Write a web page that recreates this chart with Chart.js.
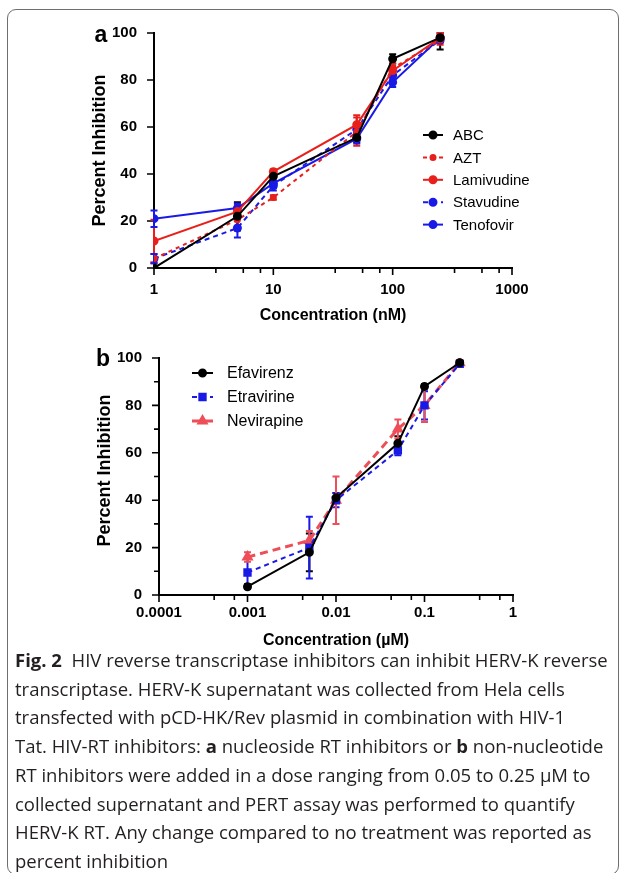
<!DOCTYPE html>
<html>
<head>
<meta charset="utf-8">
<script src="https://cdn.jsdelivr.net/npm/chart.js@4.4.0/dist/chart.umd.min.js"></script>
<style>
  body { margin: 0; background: #fff; width: 624px; height: 873px; overflow: hidden; position: relative; }
  #frame { position: absolute; left: 7px; top: 9px; width: 610px; height: 864px; border: 1px solid #6d6e71; border-radius: 9px; }
  #wrapA { position: absolute; left: 0; top: 0; width: 624px; height: 340px; }
  #wrapB { position: absolute; left: 0; top: 340px; width: 624px; height: 320px; }
  #caption { position: absolute; left: 15px; top: 646px; font-family: 'Open Sans', sans-serif; font-size: 18.5px;
             line-height: 28.7px; color: #231f20; white-space: nowrap; }
  #caption b { font-weight: 700; }
</style>
</head>
<body>
<div id="frame"></div>
<div id="wrapA"><canvas id="chartA"></canvas></div>
<div id="wrapB"><canvas id="chartB"></canvas></div>
<div id="caption">
  <div><b>Fig. 2</b>&nbsp; HIV reverse transcriptase inhibitors can inhibit HERV-K reverse</div>
  <div>transcriptase. HERV-K supernatant was collected from Hela cells</div>
  <div>transfected with pCD-HK/Rev plasmid in combination with HIV-1</div>
  <div>Tat. HIV-RT inhibitors: <b>a</b> nucleoside RT inhibitors or <b>b</b> non-nucleotide</div>
  <div>RT inhibitors were added in a dose ranging from 0.05 to 0.25 µM to</div>
  <div>collected supernatant and PERT assay was performed to quantify</div>
  <div>HERV-K RT. Any change compared to no treatment was reported as</div>
  <div>percent inhibition</div>
</div>
<script>
// ---------------------------
// DATA - panel a (nM)
// ---------------------------
const concA = [1, 5, 10, 50, 100, 250];
const abc = [0, 22, 39, 55.5, 89, 98];
const abcErr = [0, 6, 2, 2, 2, 5];
const azt = [4, 20.5, 30, 58, 85, 97];
const aztErr = [2, 3, 1, 6, 2, 2];
const lamivudine = [11.5, 24, 41, 61, 84, 98];
const lamivudineErr = [9, 3, 1, 4, 2, 2];
const stavudine = [4, 17, 35, 59, 82, 97];
const stavudineErr = [2, 4, 2, 2, 2, 1];
const tenofovir = [21, 25.5, 36, 55, 79, 98];
const tenofovirErr = [3.5, 2, 2, 2, 2, 1];
const xTicksA = [1, 10, 100, 1000];
const xTickLabelsA = ['1', '10', '100', '1000'];
const xMinorA = [3.3, 5.6, 7.8, 33, 56, 78, 330, 560, 780];

// ---------------------------
// DATA - panel b (µM)
// ---------------------------
const concB = [0.001, 0.005, 0.01, 0.05, 0.1, 0.25];
const efavirenz = [3.5, 18, 41, 64, 88, 98];
const efavirenzErr = [1, 8, 2, 3, 1, 1];
const etravirine = [9.5, 20, 40, 61, 80, 97.5];
const etravirineErr = [6, 13, 3, 2, 6, 1];
const nevirapine = [16, 23, 40, 70, 80, 98];
const nevirapineErr = [2, 4, 10, 4, 7, 1];
const xTicksB = [0.0001, 0.001, 0.01, 0.1, 1];
const xTickLabelsB = ['0.0001', '0.001', '0.01', '0.1', '1'];
const xMinorB = [0.00042, 0.00071, 0.0042, 0.0071, 0.042, 0.071, 0.42, 0.71];
const yMinorB = [10, 30, 50, 70, 90];

const FONT = "'Liberation Sans', Arial, sans-serif";
Chart.defaults.font.family = FONT;
Chart.defaults.color = '#000';

function series(label, xs, ys, errs, style) {
    return Object.assign({
        label,
        data: xs.map((x, i) => ({ x, y: ys[i] })),
        errors: errs,
        borderWidth: 2,
        pointRadius: 3.5,
        pointHoverRadius: 3.5,
        pointStyle: 'circle',
        tension: 0
    }, style, {
        backgroundColor: style.borderColor,
        pointBackgroundColor: style.borderColor,
        pointBorderColor: style.borderColor
    });
}

// error bars drawn from the dataset's own errors through the scales
const errorBars = {
    id: 'errorBars',
    beforeDatasetsDraw(chart) {
        const { ctx, scales: { x, y } } = chart;
        ctx.save();
        chart.data.datasets.forEach(ds => {
            ctx.strokeStyle = ds.borderColor;
            ctx.lineWidth = 2;
            ds.data.forEach((p, i) => {
                const e = ds.errors[i];
                if (!e) return;
                const px = x.getPixelForValue(p.x);
                const top = y.getPixelForValue(Math.min(100, p.y + e));
                const bot = y.getPixelForValue(Math.max(0, p.y - e));
                ctx.beginPath();
                ctx.moveTo(px, top); ctx.lineTo(px, bot);
                ctx.moveTo(px - 3.5, top); ctx.lineTo(px + 3.5, top);
                ctx.moveTo(px - 3.5, bot); ctx.lineTo(px + 3.5, bot);
                ctx.stroke();
            });
        });
        ctx.restore();
    }
};

// axis lines + major/minor ticks
const axes = {
    id: 'axes',
    beforeDatasetsDraw(chart, args, opts) {
        const { ctx, chartArea: a, scales: { x, y } } = chart;
        ctx.save();
        ctx.strokeStyle = '#000';
        ctx.lineWidth = 2;
        ctx.beginPath();
        ctx.moveTo(a.left, a.top - 1); ctx.lineTo(a.left, a.bottom); ctx.lineTo(a.right + 1, a.bottom);
        ctx.stroke();
        ctx.lineWidth = 1.6;
        ctx.beginPath();
        y.ticks.forEach(t => { const py = y.getPixelForValue(t.value); ctx.moveTo(a.left - 7, py); ctx.lineTo(a.left, py); });
        (opts.yMinor || []).forEach(v => { const py = y.getPixelForValue(v); ctx.moveTo(a.left - 5, py); ctx.lineTo(a.left, py); });
        x.ticks.forEach(t => { const px = x.getPixelForValue(t.value); ctx.moveTo(px, a.bottom); ctx.lineTo(px, a.bottom + 7); });
        (opts.xMinor || []).forEach(v => { const px = x.getPixelForValue(v); ctx.moveTo(px, a.bottom); ctx.lineTo(px, a.bottom + 5); });
        ctx.stroke();
        ctx.restore();
    }
};

// panel letter, axis titles and legend
const decor = {
    id: 'decor',
    afterDraw(chart, args, o) {
        const { ctx, chartArea: a } = chart;
        ctx.save();
        ctx.fillStyle = '#000';
        ctx.textAlign = 'center';
        ctx.textBaseline = 'middle';
        ctx.font = 'bold 23px ' + FONT;
        ctx.fillText(o.letter, a.left + o.letterDx, a.top + o.letterDy);
        ctx.font = 'bold 16px ' + FONT;
        ctx.fillText(o.xTitle, (a.left + a.right) / 2, a.bottom + o.xTitleDy);
        ctx.save();
        ctx.translate(a.left + o.yTitleDx, (a.top + a.bottom) / 2 + o.yTitleShift);
        ctx.rotate(-Math.PI / 2);
        ctx.font = 'bold 18px ' + FONT;
        ctx.fillText('Percent Inhibition', 0, 0);
        ctx.restore();

        const L = o.legend;
        ctx.textAlign = 'left';
        ctx.font = L.font + 'px ' + FONT;
        chart.data.datasets.forEach((ds, i) => {
            const ly = L.y + i * L.dy;
            ctx.strokeStyle = ds.borderColor;
            ctx.fillStyle = ds.borderColor;
            ctx.lineWidth = ds.borderWidth;
            ctx.setLineDash(ds.borderDash || []);
            ctx.beginPath();
            ctx.moveTo(L.x0, ly); ctx.lineTo(L.x1, ly);
            ctx.stroke();
            ctx.setLineDash([]);
            Chart.helpers.drawPoint(ctx, { pointStyle: ds.pointStyle, radius: ds.pointRadius, rotation: 0, borderWidth: 1 },
                (L.x0 + L.x1) / 2, ly);
            ctx.fillStyle = '#000';
            ctx.fillText(ds.label, L.tx, ly + 1);
        });
        ctx.restore();
    }
};

function options(cfg) {
    return {
        responsive: true,
        maintainAspectRatio: false,
        animation: false,
        layout: { padding: cfg.padding },
        plugins: {
            legend: { display: false },
            tooltip: { enabled: false },
            axes: { xMinor: cfg.xMinor, yMinor: cfg.yMinor },
            decor: cfg.decor
        },
        scales: {
            x: {
                type: 'logarithmic',
                min: cfg.xTicks[0],
                max: cfg.xTicks[cfg.xTicks.length - 1],
                grid: { display: false },
                border: { display: false },
                afterBuildTicks: s => { s.ticks = cfg.xTicks.map(v => ({ value: v })); },
                afterFit: s => { s.height = cfg.xHeight; },
                ticks: {
                    autoSkip: false, maxRotation: 0, padding: cfg.xPad,
                    font: { size: 15, weight: 'bold' },
                    callback: (v, i) => cfg.xLabels[i]
                }
            },
            y: {
                min: 0, max: 100,
                grid: { display: false },
                border: { display: false },
                afterFit: s => { s.width = cfg.yWidth; },
                ticks: { stepSize: 20, padding: 9, font: { size: 15, weight: 'bold' } }
            }
        }
    };
}

new Chart(document.getElementById('chartA'), {
    type: 'line',
    data: {
        datasets: [
            series('ABC', concA, abc, abcErr, { borderColor: '#000000' }),
            series('AZT', concA, azt, aztErr, { borderColor: '#e8201c', borderDash: [4, 4], pointRadius: 2.5 }),
            series('Lamivudine', concA, lamivudine, lamivudineErr, { borderColor: '#e8201c' }),
            series('Stavudine', concA, stavudine, stavudineErr, { borderColor: '#1a1ae6', borderDash: [5, 4] }),
            series('Tenofovir', concA, tenofovir, tenofovirErr, { borderColor: '#1a1ae6' })
        ]
    },
    options: options({
        padding: { top: 33, right: 112, left: 0, bottom: 0 },
        xTicks: xTicksA, xLabels: xTickLabelsA, xMinor: xMinorA,
        xHeight: 72, xPad: 5, yWidth: 154,
        decor: {
            letter: 'a', letterDx: -53, letterDy: 3,
            xTitle: 'Concentration (nM)', xTitleDy: 48,
            yTitleDx: -54, yTitleShift: 0,
            legend: { x0: 423, x1: 443, tx: 453, y: 135, dy: 22.4, font: 15 }
        }
    }),
    plugins: [axes, errorBars, decor]
});

new Chart(document.getElementById('chartB'), {
    type: 'line',
    data: {
        datasets: [
            series('Efavirenz', concB, efavirenz, efavirenzErr, { borderColor: '#000000' }),
            series('Etravirine', concB, etravirine, etravirineErr, { borderColor: '#1a1ae6', borderDash: [5, 4], pointStyle: 'rect', pointRadius: 4.5 }),
            series('Nevirapine', concB, nevirapine, nevirapineErr, { borderColor: '#ee4e58', borderDash: [8, 5], borderWidth: 3, pointStyle: 'triangle', pointRadius: 4 })
        ]
    },
    options: options({
        padding: { top: 17, right: 111, left: 0, bottom: 0 },
        xTicks: xTicksB, xLabels: xTickLabelsB, xMinor: xMinorB, yMinor: yMinorB,
        xHeight: 65, xPad: 1, yWidth: 159,
        decor: {
            letter: 'b', letterDx: -56, letterDy: 2,
            xTitle: 'Concentration (µM)', xTitleDy: 46,
            yTitleDx: -54, yTitleShift: -6,
            legend: { x0: 192, x1: 213, tx: 227, y: 33, dy: 24, font: 16 }
        }
    }),
    plugins: [axes, errorBars, decor]
});
</script>
</body>
</html>
